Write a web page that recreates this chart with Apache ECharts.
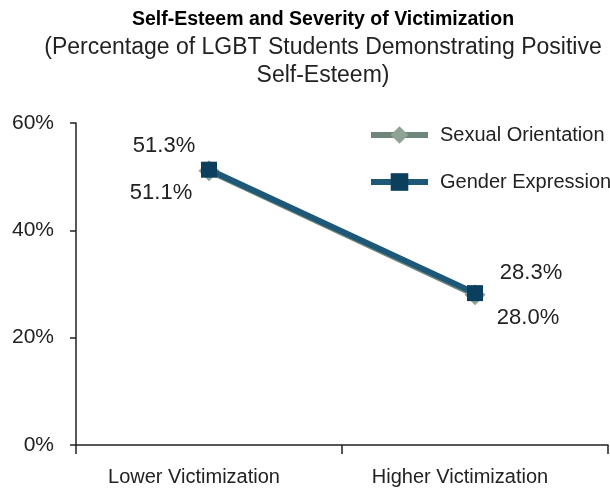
<!DOCTYPE html>
<html><head><meta charset="utf-8">
<script src="https://cdn.jsdelivr.net/npm/echarts@6/dist/echarts.min.js"></script>
<style>html,body{margin:0;padding:0;background:#fff}#c{width:610px;height:490px}</style>
</head><body><div id="c"></div>
<script>
const categories = ['Lower Victimization', 'Higher Victimization'];
const sexualOrientation = [51.1, 28.0];
const genderExpression = [51.3, 28.3];
const yTicks = [0, 20, 40, 60];

const chart = echarts.init(document.getElementById('c'), null, {renderer: 'canvas'});
const font = 'Liberation Sans';
chart.setOption({
  animation: false,
  textStyle: {fontFamily: font},
  title: {
    text: 'Self-Esteem and Severity of Victimization',
    subtext: '(Percentage of LGBT Students Demonstrating Positive\nSelf-Esteem)',
    left: 318, textAlign: 'center', top: 5, itemGap: 4,
    textStyle: {fontFamily: font, fontWeight: 'bold', fontSize: 19.5, color: '#000'},
    subtextStyle: {fontFamily: font, fontSize: 23, color: '#222', lineHeight: 28}
  },
  legend: {
    orient: 'vertical', left: 368, top: 125, itemGap: 27, padding: 0,
    itemWidth: 57, itemHeight: 22,
    textStyle: {fontFamily: font, fontSize: 20, color: '#222', padding: [0,0,0,7]},
    data: [
      {name: 'Sexual Orientation', lineStyle: {width: 6, color: '#6f877b'}},
      {name: 'Gender Expression', lineStyle: {width: 6, color: '#1d5878'}}
    ]
  },
  grid: {left: 76, right: 2, top: 123, bottom: 45},
  xAxis: {
    type: 'category', data: categories, boundaryGap: true,
    axisLine: {lineStyle: {color: '#222', width: 1.5}},
    axisTick: {show: true, length: 9, lineStyle: {color: '#222', width: 1.5}},
    axisLabel: {fontFamily: font, fontSize: 20, color: '#222', margin: 22,
      padding: [0, 30, 0, 0]}
  },
  yAxis: {
    type: 'value', min: 0, max: 60, interval: 20,
    axisLine: {show: true, lineStyle: {color: '#222', width: 1.5}},
    axisTick: {show: true, length: 6, lineStyle: {color: '#222', width: 1.5}},
    splitLine: {show: false},
    axisLabel: {fontFamily: font, fontSize: 21, color: '#222', margin: 22,
      formatter: v => yTicks.includes(v) ? v + '%' : ''}
  },
  series: [
    {
      name: 'Sexual Orientation', type: 'line', data: sexualOrientation,
      symbol: 'diamond', symbolSize: 21,
      lineStyle: {color: '#6f877b', width: 6},
      itemStyle: {color: '#8ea295'},
      label: {show: true, fontFamily: font, fontSize: 22, color: '#222',
        formatter: p => p.value.toFixed(1) + '%', position: 'inside'},
      labelLayout: p => p.dataIndex === 0 ? {dx: -48, dy: 22} : {dx: 53, dy: 23},
      z: 2
    },
    {
      name: 'Gender Expression', type: 'line', data: genderExpression,
      symbol: 'rect', symbolSize: 16,
      lineStyle: {color: '#1d5878', width: 6},
      itemStyle: {color: '#0c3f5d'},
      label: {show: true, fontFamily: font, fontSize: 22, color: '#222',
        formatter: p => p.value.toFixed(1) + '%', position: 'inside'},
      labelLayout: p => p.dataIndex === 0 ? {dx: -45, dy: -24} : {dx: 56, dy: -20},
      z: 3
    }
  ]
});
</script></body></html>
